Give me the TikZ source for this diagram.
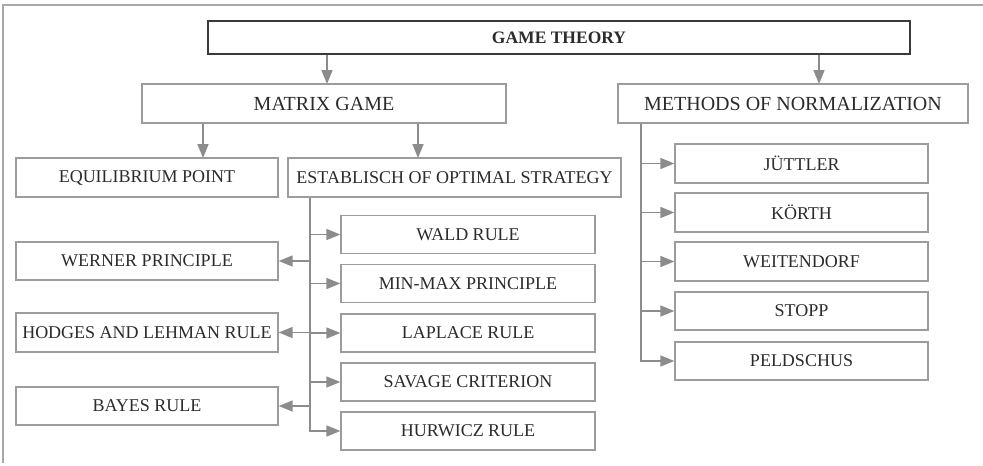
\documentclass[tikz,border=0pt]{standalone}
\usepackage{fontspec}
\setmainfont{Liberation Serif}
\usetikzlibrary{arrows.meta}
\definecolor{txt}{HTML}{2B2B2B}
\definecolor{boxc}{HTML}{9C9C9C}
\definecolor{linec}{HTML}{8C8C8E}
\definecolor{framec}{HTML}{A8A8A8}
\definecolor{titlec}{HTML}{3A3A3A}
\tikzset{
  basebox/.style={draw=boxc, line width=1.3pt, inner sep=0pt, text=txt, align=center},
  lvlone/.style={basebox, minimum height=39pt, font=\fontsize{20}{24}\selectfont},
  lvltwo/.style={basebox, font=\fontsize{18}{22}\selectfont},
  titlebox/.style={draw=titlec, line width=2.3pt, inner sep=0pt, text=txt,
    minimum width=702pt, minimum height=33pt, font=\fontsize{17.5}{21}\selectfont\bfseries},
  conn/.style={draw=linec, line width=1.6pt},
  arr/.style={conn, -{Triangle[length=14pt,width=11pt]}},
}
\begin{document}
\begin{tikzpicture}[x=1pt,y=-1pt]
\useasboundingbox (0,0) rectangle (983,466);
\draw[framec, line width=1.5pt] (983,5) -- (3,5) -- (3,463);

\node[titlebox] (gt) at (559,37.5) {GAME THEORY};
\node[lvlone, minimum width=364pt] (mg) at (324,103.5) {MATRIX GAME};
\node[lvlone, minimum width=350pt] (mn) at (793,103.5) {METHODS OF NORMALIZATION};

\node[lvltwo, minimum width=262pt, minimum height=39pt] (eq) at (147,177.5) {EQUILIBRIUM POINT};
\node[lvltwo, minimum width=333pt, minimum height=39pt] (es) at (454.5,177.5) {ESTABLISCH OF OPTIMAL STRATEGY};

\node[lvltwo, minimum width=254pt, minimum height=38pt] (wald) at (468,234.5) {WALD RULE};
\node[lvltwo, minimum width=254pt, minimum height=38pt] (minmax) at (468,283.5) {MIN-MAX PRINCIPLE};
\node[lvltwo, minimum width=254pt, minimum height=38pt] (laplace) at (468,333) {LAPLACE RULE};
\node[lvltwo, minimum width=254pt, minimum height=38pt] (savage) at (468,382) {SAVAGE CRITERION};
\node[lvltwo, minimum width=254pt, minimum height=38pt] (hurwicz) at (468,431) {HURWICZ RULE};

\node[lvltwo, minimum width=262pt, minimum height=38pt] (werner) at (147,261) {WERNER PRINCIPLE};
\node[lvltwo, minimum width=262pt, minimum height=39pt] (hodges) at (147,332.5) {HODGES AND LEHMAN RULE};
\node[lvltwo, minimum width=262pt, minimum height=38pt] (bayes) at (147,406) {BAYES RULE};

\node[lvltwo, minimum width=253pt, minimum height=39pt] (jut) at (801.5,163.5) {JÜTTLER};
\node[lvltwo, minimum width=253pt, minimum height=39pt] (korth) at (801.5,212.5) {KÖRTH};
\node[lvltwo, minimum width=253pt, minimum height=39pt] (weit) at (801.5,261.5) {WEITENDORF};
\node[lvltwo, minimum width=253pt, minimum height=38pt] (stopp) at (801.5,311) {STOPP};
\node[lvltwo, minimum width=253pt, minimum height=38pt] (peld) at (801.5,361) {PELDSCHUS};

\coordinate (mgin) at (327,84);
\coordinate (mnin) at (819,84);
\coordinate (eqin) at (203,158);
\coordinate (esin) at (418,158);
\coordinate (tk) at (310,197);
\coordinate (tn) at (641,123);

\draw[arr] (gt.south -| mgin) -- (mgin);
\draw[arr] (gt.south -| mnin) -- (mnin);
\draw[arr] (mg.south -| eqin) -- (eqin);
\draw[arr] (mg.south -| esin) -- (esin);

\draw[arr] (es.south -| tk) |- (hurwicz.west);
\draw[arr] (wald.west -| tk) -- (wald.west);
\draw[arr] (minmax.west -| tk) -- (minmax.west);
\draw[arr] (laplace.west -| tk) -- (laplace.west);
\draw[arr] (savage.west -| tk) -- (savage.west);
\draw[arr] (werner.east -| tk) -- (werner.east);
\draw[arr] (hodges.east -| tk) -- (hodges.east);
\draw[arr] (bayes.east -| tk) -- (bayes.east);

\draw[arr] (mn.south -| tn) |- (peld.west);
\draw[arr] (jut.west -| tn) -- (jut.west);
\draw[arr] (korth.west -| tn) -- (korth.west);
\draw[arr] (weit.west -| tn) -- (weit.west);
\draw[arr] (stopp.west -| tn) -- (stopp.west);
\end{tikzpicture}
\end{document}
